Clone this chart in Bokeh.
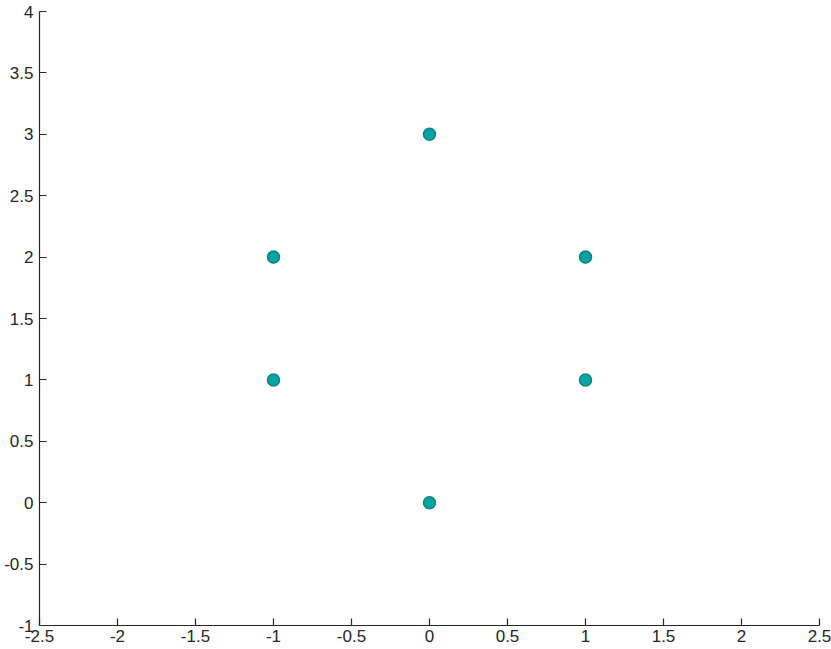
from bokeh.plotting import figure
from bokeh.models import FixedTicker, Range1d
from bokeh.embed import file_html
from bokeh.resources import INLINE

xs = [0, -1, 1, -1, 1, 0]
ys = [3, 2, 2, 1, 1, 0]
x_ticks = [-2.5, -2, -1.5, -1, -0.5, 0, 0.5, 1, 1.5, 2, 2.5]
x_labels = ["-2.5", "-2", "-1.5", "-1", "-0.5", "0", "0.5", "1", "1.5", "2", "2.5"]
y_ticks = [-1, -0.5, 0, 0.5, 1, 1.5, 2, 2.5, 3, 3.5, 4]
y_labels = ["-1", "-0.5", "0", "0.5", "1", "1.5", "2", "2.5", "3", "3.5", "4"]

p = figure(width=831, height=649, output_backend="svg", toolbar_location=None,
           x_range=Range1d(-2.5, 2.5), y_range=Range1d(-1, 4),
           min_border_left=39, min_border_right=12, min_border_top=11, min_border_bottom=24)
p.outline_line_color = None
p.xgrid.visible = False
p.ygrid.visible = False

p.scatter(xs, ys, size=12, fill_color="#0aa3a3", line_color="#0a8284", line_width=1.5)

for ax, ticks, labels in ((p.xaxis[0], x_ticks, x_labels), (p.yaxis[0], y_ticks, y_labels)):
    ax.ticker = FixedTicker(ticks=ticks)
    ax.major_label_overrides = {t: l for t, l in zip(ticks, labels)}
    ax.minor_tick_line_color = None
    ax.major_tick_in = 7
    ax.major_tick_out = 0
    ax.axis_line_color = "#262626"
    ax.major_tick_line_color = "#262626"
    ax.axis_line_width = 1.2
    ax.major_tick_line_width = 1.2
    ax.major_label_text_font = "Liberation Sans"
    ax.major_label_text_font_size = "17px"
    ax.major_label_text_color = "#262626"

p.yaxis[0].major_label_standoff = 6
p.xaxis[0].major_label_standoff = 4

open("out.html", "w").write(file_html(p, INLINE))
